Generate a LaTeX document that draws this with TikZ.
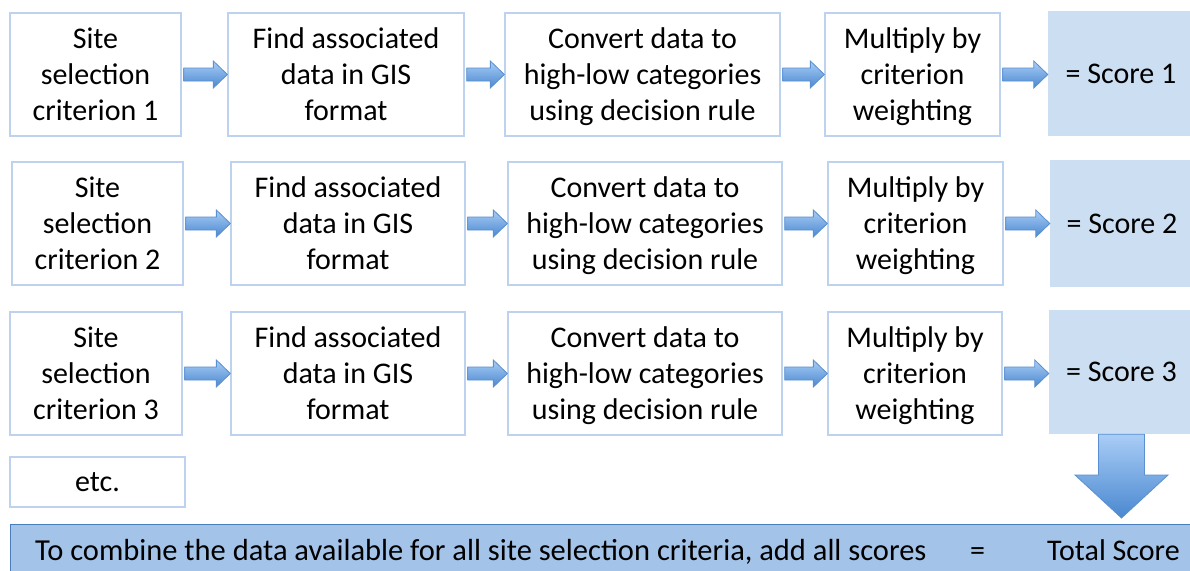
\documentclass[tikz,border=0pt]{standalone}
\usepackage{fontspec}
\setmainfont{Carlito}
\usetikzlibrary{calc}
\definecolor{boxline}{HTML}{BCD2EE}
\definecolor{scorefill}{HTML}{CCDFF2}
\definecolor{barfill}{HTML}{A3C3E9}
\definecolor{barline}{HTML}{4A7EBB}
\definecolor{arrlight}{HTML}{A9CDF6}
\definecolor{arrdark}{HTML}{4A88D0}
\definecolor{arrline}{HTML}{5B8FCF}
\newcommand\nodepth[1]{\raisebox{0pt}[\height][0pt]{#1}}
\newcommand\hblockarrow[2]{%
  \path[blockarrow] let \p1=(#1.east), \p2=(#2.west) in
    (\x1+2pt,\y1-6.5pt) -- (\x2-14pt,\y1-6.5pt) -- (\x2-14pt,\y1-13.5pt) --
    (\x2,\y1) -- (\x2-14pt,\y1+13.5pt) -- (\x2-14pt,\y1+6.5pt) --
    (\x1+2pt,\y1+6.5pt) -- cycle;}
\begin{document}
\begin{tikzpicture}[x=1pt,y=-1pt,
  every node/.style={font=\fontsize{30}{36}\selectfont},
  stepbox/.style={draw=boxline,line width=1.3pt,fill=white,align=center,
    inner sep=0pt,minimum height=123pt},
  scorebox/.style={fill=scorefill,align=center,inner sep=0pt},
  blockarrow/.style={draw=arrline,line width=0.8pt,top color=arrlight,bottom color=arrdark},
  bartext/.style={anchor=base west,inner sep=0pt}]
\useasboundingbox (0,0) rectangle (1190,570);
% row 1
\node[stepbox,minimum width=171pt] (b11) at (95.5,74.5) {Site\\selection\\criterion 1};
\node[stepbox,minimum width=236pt] (b12) at (346,74.5) {Find associated\\data in GIS\\format};
\node[stepbox,minimum width=275pt] (b13) at (642.5,74.5) {Convert data to\\high-low categories\\\nodepth{using decision rule}};
\node[stepbox,minimum width=175pt] (b14) at (912.5,74.5) {Multiply by\\criterion\\\nodepth{weighting}};
\node[scorebox,minimum width=146pt,minimum height=125pt] (s1) at (1121,73.5) {= Score 1};
% row 2
\node[stepbox,minimum width=171pt] (b21) at (97.5,223.5) {Site\\selection\\criterion 2};
\node[stepbox,minimum width=234pt] (b22) at (348,223.5) {Find associated\\data in GIS\\format};
\node[stepbox,minimum width=274pt] (b23) at (645,223.5) {Convert data to\\high-low categories\\\nodepth{using decision rule}};
\node[stepbox,minimum width=175pt] (b24) at (915.5,223.5) {Multiply by\\criterion\\\nodepth{weighting}};
\node[scorebox,minimum width=144pt,minimum height=127pt] (s2) at (1122,223.5) {= Score 2};
% row 3
\node[stepbox,minimum width=172pt] (b31) at (96,373.5) {Site\\selection\\criterion 3};
\node[stepbox,minimum width=234pt] (b32) at (348,373.5) {Find associated\\data in GIS\\format};
\node[stepbox,minimum width=274pt] (b33) at (645,373.5) {Convert data to\\high-low categories\\\nodepth{using decision rule}};
\node[stepbox,minimum width=174pt] (b34) at (915,373.5) {Multiply by\\criterion\\\nodepth{weighting}};
\node[scorebox,minimum width=145pt,minimum height=124pt] (s3) at (1121.5,372) {= Score 3};
% etc
\node[stepbox,minimum width=175pt,minimum height=50pt] (etc) at (97.5,482) {etc.};
% bottom bar
\node[fill=barfill,draw=barline,line width=1.3pt,inner sep=0pt,
  minimum width=1190pt,minimum height=60pt,anchor=north west] (bar) at (10,524) {};
\node[bartext,font=\fontsize{30.5}{36}\selectfont] (t1) at (35,560) {To combine the data available for all site selection criteria, add all scores};
\node[bartext] (t2) at (970,560) {=};
\node[bartext] (t3) at (1047,560) {Total Score};
% arrows
\foreach \r in {1,2,3}{
  \hblockarrow{b\r1}{b\r2}
  \hblockarrow{b\r2}{b\r3}
  \hblockarrow{b\r3}{b\r4}
  \hblockarrow{b\r4}{s\r}
}
\path[blockarrow] let \p1=(s3.south), \p2=(bar.north) in
  (\x1-23pt,\y1) -- (\x1+23pt,\y1) -- (\x1+23pt,\y2+49pt) -- (\x1+46.5pt,\y2+49pt) --
  (\x1,\y2+6pt) -- (\x1-46.5pt,\y2+49pt) -- (\x1-23pt,\y2+49pt) -- cycle;
\end{tikzpicture}
\end{document}
